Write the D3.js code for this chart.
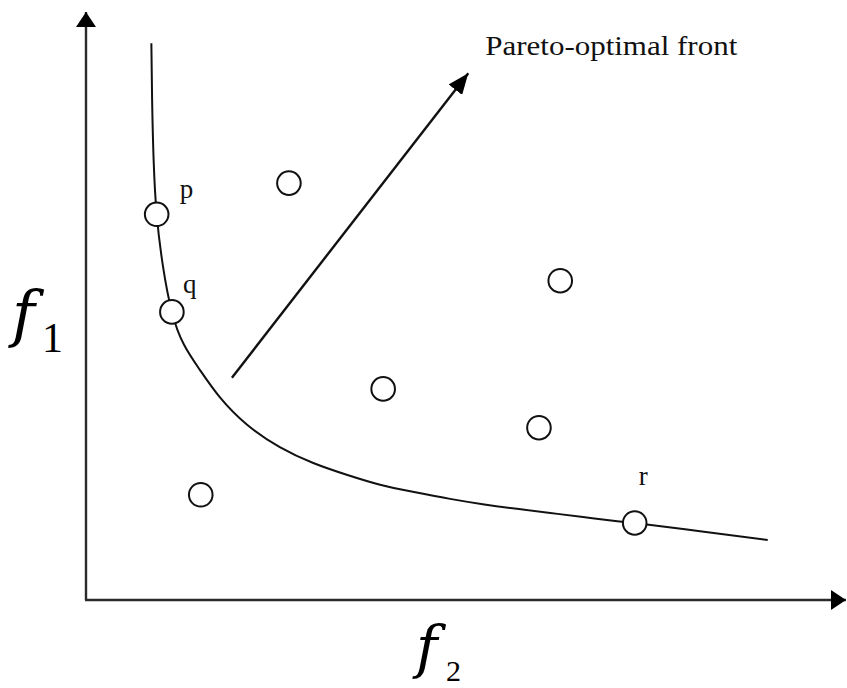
<!DOCTYPE html>
<html>
<head>
<meta charset="utf-8">
<script src="https://cdn.jsdelivr.net/npm/d3@7"></script>
<style>
  html, body { margin: 0; padding: 0; background: #ffffff; }
  svg { display: block; }
</style>
</head>
<body>
<svg id="chart" width="847" height="688"></svg>
<script>
// Pareto-optimal front, sampled along the curve (objective f2 across, f1 up)
const frontF2 = [0.86, 0.87, 0.89, 0.93, 1.01, 1.13, 1.29, 1.50, 1.76, 2.12, 2.55, 2.99,
                 3.43, 3.87, 4.30, 4.79, 5.22, 5.67, 6.11, 6.54, 6.99, 7.22, 8.08, 8.97];
const frontF1 = [9.47, 8.50, 7.48, 6.56, 5.70, 4.90, 4.34, 3.91, 3.45, 2.98, 2.60, 2.33,
                 2.13, 1.96, 1.84, 1.72, 1.63, 1.55, 1.48, 1.41, 1.34, 1.31, 1.17, 1.02];

// Candidate solutions; p, q and r lie on the front
const solutionNames = ["p", "q", "", "", "", "", "", "r"];
const solutionF2 = [0.93, 1.13, 2.67, 6.24, 3.91, 5.96, 1.51, 7.22];
const solutionF1 = [6.56, 4.90, 7.09, 5.43, 3.59, 2.93, 1.79, 1.31];

// Direction arrow pointing towards the label
const arrowF2 = [1.92, 5.03];
const arrowF1 = [3.78, 8.96];
const arrowLabel = "Pareto-optimal front";

// Axis titles: symbol and subscript
const xTitle = ["f", "2"];
const yTitle = ["f", "1"];

const SERIF = "'Liberation Serif', 'Times New Roman', serif";
const ITALIC_SERIF = "'DejaVu Serif', 'Liberation Serif', serif";

const svg = d3.select("#chart");

const x = d3.scaleLinear().domain([0, 10]).range([86, 846]);
const y = d3.scaleLinear().domain([0, 10]).range([600, 12]);

// Arrowhead markers
const defs = svg.append("defs");
defs.append("marker")
  .attr("id", "axisHead")
  .attr("markerUnits", "userSpaceOnUse")
  .attr("viewBox", "0 -10 15 20")
  .attr("refX", 15).attr("refY", 0)
  .attr("markerWidth", 15).attr("markerHeight", 20)
  .attr("orient", "auto")
  .append("path").attr("d", "M0,-10L15,0L0,10Z").attr("fill", "#000");

defs.append("marker")
  .attr("id", "dirHead")
  .attr("markerUnits", "userSpaceOnUse")
  .attr("viewBox", "0 -8.5 21 17")
  .attr("refX", 21).attr("refY", 0)
  .attr("markerWidth", 21).attr("markerHeight", 17)
  .attr("orient", "auto")
  .append("path").attr("d", "M0,-8.5L21,0L0,8.5Z").attr("fill", "#000");

// Axes (no ticks), drawn as arrows from the origin
const axes = svg.append("g").attr("stroke", "#2a2a2a").attr("stroke-width", 2.4);
axes.append("line")
  .attr("x1", x(0)).attr("y1", y(0))
  .attr("x2", x(0)).attr("y2", y(10))
  .attr("marker-end", "url(#axisHead)");
axes.append("line")
  .attr("x1", x(0) - 1).attr("y1", y(0))
  .attr("x2", x(10)).attr("y2", y(0))
  .attr("marker-end", "url(#axisHead)");

// Front curve
const frontPts = frontF2.map((v, i) => [x(v), y(frontF1[i])]);
svg.append("path")
  .attr("d", d3.line().curve(d3.curveNatural)(frontPts))
  .attr("fill", "none")
  .attr("stroke", "#111")
  .attr("stroke-width", 2);

// Direction arrow
svg.append("line")
  .attr("x1", x(arrowF2[0])).attr("y1", y(arrowF1[0]))
  .attr("x2", x(arrowF2[1])).attr("y2", y(arrowF1[1]))
  .attr("stroke", "#111")
  .attr("stroke-width", 2.4)
  .attr("marker-end", "url(#dirHead)");

svg.append("text")
  .attr("x", x(arrowF2[1]) + 17)
  .attr("y", y(arrowF1[1]) - 18)
  .attr("font-family", SERIF)
  .attr("font-size", 27)
  .attr("fill", "#111")
  .attr("textLength", 252)
  .attr("lengthAdjust", "spacingAndGlyphs")
  .text(arrowLabel);

// Solutions
const solutions = solutionF2.map((v, i) => ({ f2: v, f1: solutionF1[i], name: solutionNames[i] }));
svg.append("g").selectAll("circle")
  .data(solutions)
  .join("circle")
  .attr("cx", d => x(d.f2))
  .attr("cy", d => y(d.f1))
  .attr("r", 11.8)
  .attr("fill", "#fff")
  .attr("stroke", "#111")
  .attr("stroke-width", 2);

// Point labels, offset from their circles
const labelOffset = { p: [23, -16], q: [11, -19], r: [4, -38] };
svg.append("g").selectAll("text")
  .data(solutions.filter(d => d.name))
  .join("text")
  .attr("x", d => x(d.f2) + labelOffset[d.name][0])
  .attr("y", d => y(d.f1) + labelOffset[d.name][1])
  .attr("font-family", SERIF)
  .attr("font-size", 27)
  .attr("fill", "#111")
  .text(d => d.name);

// Axis titles
const xt = svg.append("g").attr("fill", "#000");
xt.append("text").attr("x", 416).attr("y", 667)
  .attr("font-family", ITALIC_SERIF)
  .attr("font-size", 58).attr("font-style", "italic").text(xTitle[0]);
xt.append("text").attr("x", 446).attr("y", 681)
  .attr("font-family", SERIF)
  .attr("font-size", 30).text(xTitle[1]);

const yt = svg.append("g").attr("fill", "#000");
yt.append("text").attr("x", 12).attr("y", 335)
  .attr("font-family", ITALIC_SERIF)
  .attr("font-size", 62).attr("font-style", "italic").text(yTitle[0]);
yt.append("text").attr("x", 42).attr("y", 352)
  .attr("font-family", SERIF)
  .attr("font-size", 42).text(yTitle[1]);
</script>
</body>
</html>
